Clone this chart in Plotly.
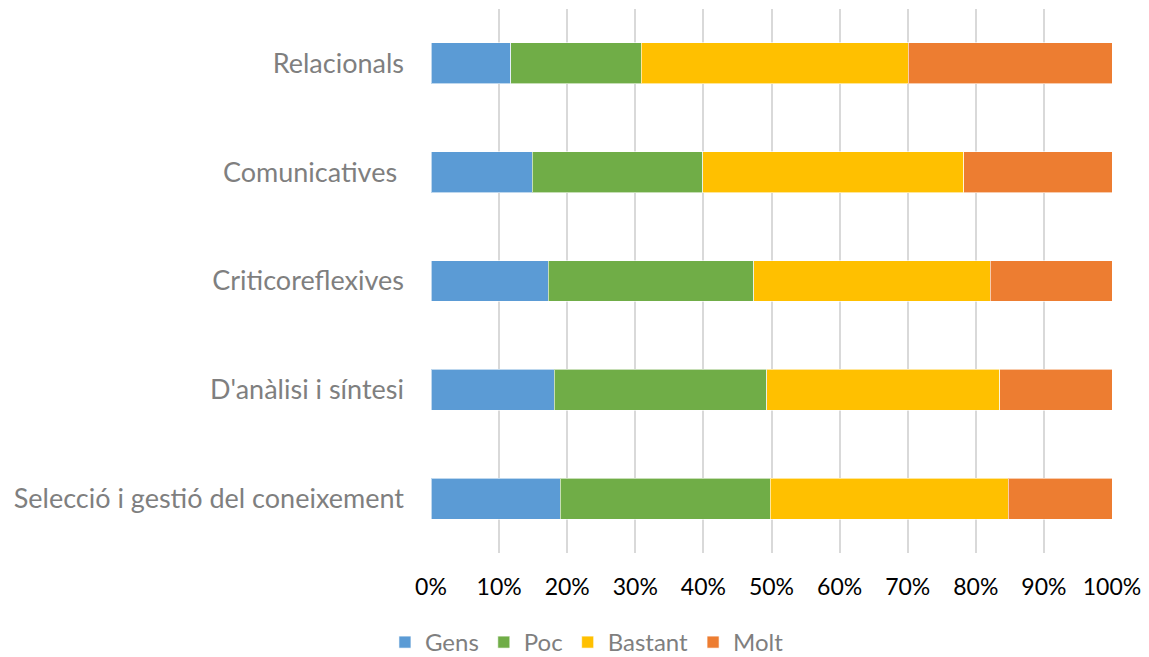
import plotly.graph_objects as go

categories = ["Selecció i gestió del coneixement", "D'anàlisi i síntesi", "Criticoreflexives", "Comunicatives ", "Relacionals"]
gens = [19.0, 18.1, 17.2, 14.9, 11.7]
poc = [30.8, 31.2, 30.2, 25.0, 19.2]
bastant = [35.0, 34.2, 34.7, 38.3, 39.2]
molt = [15.2, 16.5, 17.9, 21.8, 29.9]
series_names = ["Gens", "Poc", "Bastant", "Molt"]
colors = ["#5B9BD5", "#70AD47", "#FFC000", "#ED7D31"]
xticks = [0, 10, 20, 30, 40, 50, 60, 70, 80, 90, 100]
xticklabels = [f"{v}%" for v in xticks]

fig = go.Figure()
for name, vals, col in zip(series_names, [gens, poc, bastant, molt], colors):
    fig.add_trace(go.Bar(
        y=categories, x=vals, name=name, orientation="h",
        marker=dict(color=col, line=dict(color="rgba(255,255,255,0.6)", width=1)),
        width=0.376,
    ))

fig.update_layout(
    barmode="stack",
    width=1149, height=657,
    margin=dict(l=423, r=45, t=1, b=111),
    paper_bgcolor="white", plot_bgcolor="white",
    font=dict(family="Lato, Open Sans, sans-serif"),
    legend=dict(orientation="h", x=0.229, xanchor="center", y=-0.163, yanchor="middle",
                font=dict(size=24, color="#7f7f7f"), traceorder="normal",
                itemwidth=30),
    xaxis=dict(range=[0, 100], tickvals=xticks, ticktext=xticklabels,
               showgrid=True, gridcolor="#d9d9d9", gridwidth=2,
               zeroline=False, showline=False,
               tickfont=dict(size=23, color="#000000"), ticklabelstandoff=18),
    yaxis=dict(showgrid=False, zeroline=False, showline=False,
               tickfont=dict(size=27, color="#7f7f7f"), ticklabelstandoff=26,
               range=[-0.5, 4.5]),
)

fig.write_html("out.html")
